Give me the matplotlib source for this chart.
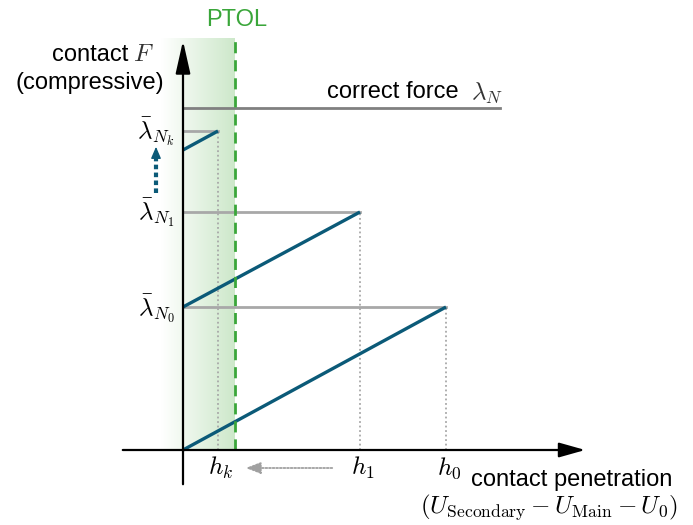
import numpy as np
import matplotlib
matplotlib.use("Agg")
import matplotlib.pyplot as plt
from matplotlib.colors import LinearSegmentedColormap

plt.rcParams['font.family'] = ['Liberation Sans', 'DejaVu Sans']
plt.rcParams['mathtext.fontset'] = 'cm'

# ---- data (abstract units: penetration on x, force on y) ----
h_vals = [263, 177, 35]             # h0, h1, hk
h_labels = [r'$h_0$', r'$h_1$', r'$h_k$']
lam_bar = [143, 238, 319]           # lambda_bar N0, N1, Nk
lam_labels = [r'$\bar{\lambda}_{N_0}$', r'$\bar{\lambda}_{N_1}$', r'$\bar{\lambda}_{N_k}$']
line_starts = [0, 143, 300]         # force at zero penetration for each iteration line
lam_N = 342                          # correct force
lam_N_end = 317
ptol = 52

BLUE = '#0b5a78'
GREEN = '#3aa63a'
TXT = 17
MATH = 18

fig = plt.figure(figsize=(6.93, 5.25), dpi=100)
ax = fig.add_axes([0, 0, 1, 1])
ax.set_xlim(-183, 510)
ax.set_ylim(-75, 450)
ax.axis('off')

# green gradient band
cmap = LinearSegmentedColormap.from_list('g', ['#ffffff', '#cde8ca'])
grad = np.linspace(0, 1, 256).reshape(1, -1)
ax.imshow(grad, extent=[-22, ptol, 0, 412], cmap=cmap, aspect='auto', zorder=0)
ax.plot([ptol, ptol], [0, 412], color=GREEN, lw=2.0, ls=(0, (4, 2.5)), zorder=4)
ax.text(ptol + 2, 430, 'PTOL', color=GREEN, fontsize=TXT, ha='center', va='center')

# axes arrows
ax.annotate('', xy=(405, 0), xytext=(-63, 0),
            arrowprops=dict(arrowstyle='-|>,head_length=1.6,head_width=0.45', color='black', lw=1.6), zorder=5)
ax.annotate('', xy=(0, 412), xytext=(0, -37),
            arrowprops=dict(arrowstyle='-|>,head_length=2.0,head_width=0.45', color='black', lw=1.6), zorder=5)

# correct force line
ax.plot([0, lam_N_end], [lam_N, lam_N], color='#808080', lw=2.0, zorder=2)
ax.text(289, 358, 'correct force  ', fontsize=TXT, ha='right', va='center')
ax.text(288, 357, r'$\lambda_N$', fontsize=MATH, ha='left', va='center', color='#333333')

# iteration lines
for h, lb, st in zip(h_vals, lam_bar, line_starts):
    ax.plot([0, h], [lb, lb], color='#a8a8a8', lw=2.0, zorder=2)
    ax.plot([h, h], [0, lb], color='#a8a8a8', lw=1.3, ls=(0, (1, 1.5)), zorder=2)
    ax.plot([0, h], [st, lb], color=BLUE, lw=2.4, zorder=3, solid_capstyle='butt')

# x labels
for h, lab in zip(h_vals, h_labels):
    ax.text(h + 3, -18, lab, fontsize=MATH, ha='center', va='center')
ax.annotate('', xy=(60, -18), xytext=(152, -18),
            arrowprops=dict(arrowstyle='-|>,head_length=0.9,head_width=0.35', color='#a0a0a0',
                            lw=1.3, ls=(0, (1, 1))))

# y labels
for lb, lab in zip(lam_bar, lam_labels):
    ax.text(-8, lb - 1, lab, fontsize=MATH, ha='right', va='center')

# blue dotted arrow
ax.plot([-27, -27], [257, 296], color=BLUE, lw=3.0, ls=(0, (1.1, 0.8)),
        dash_capstyle='butt', zorder=3)
ax.annotate('', xy=(-27, 306), xytext=(-27, 294),
            arrowprops=dict(arrowstyle='-|>,head_length=0.7,head_width=0.3', color=BLUE,
                            lw=1.0))

# axis titles
ax.text(-131, 395, 'contact', fontsize=TXT, ha='left', va='center')
ax.text(-50, 396, r'$F$', fontsize=MATH, ha='left', va='center', color='#333333')
ax.text(-93, 367, '(compressive)', fontsize=TXT, ha='center', va='center')
ax.text(489, -30, 'contact penetration', fontsize=TXT, ha='right', va='center')
ax.text(366, -57, r'$(U_{\mathrm{Secondary}}-U_{\mathrm{Main}}-U_0)$', fontsize=MATH,
        ha='center', va='center')

fig.savefig('out.png', dpi=100)
